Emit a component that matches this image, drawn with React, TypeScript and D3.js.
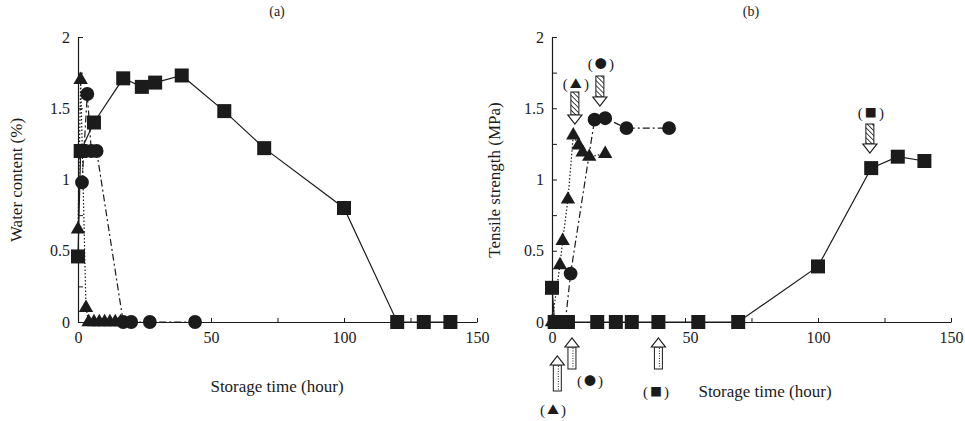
import React, { useEffect, useRef } from 'react';
import * as d3 from 'd3';

// storage time (hour) and values
const waterSquareTime = [0, 1, 6, 17, 24, 29, 39, 55, 70, 100, 120, 130, 140];
const waterSquare = [0.46, 1.2, 1.4, 1.71, 1.65, 1.68, 1.73, 1.48, 1.22, 0.8, 0, 0, 0];
const waterTriTime = [0, 1, 3, 4, 6, 8, 10, 12, 14, 16];
const waterTri = [0.65, 1.7, 0.1, 0, 0, 0, 0, 0, 0, 0];
const waterCircTime = [1.5, 3.5, 5, 7, 17, 20, 27, 44];
const waterCirc = [0.98, 1.6, 1.2, 1.2, 0, 0, 0, 0];

const tensSquareTime = [0, 1, 3, 6, 17, 24, 30, 40, 55, 70, 100, 120, 130, 140];
const tensSquare = [0.24, 0, 0, 0, 0, 0, 0, 0, 0, 0, 0.39, 1.08, 1.16, 1.13];
const tensTriTime = [0, 3, 4, 6, 8, 10, 11.5, 14, 20];
const tensTri = [0, 0.4, 0.57, 0.86, 1.31, 1.24, 1.19, 1.16, 1.18];
const tensCircTime = [5, 7, 16, 20, 28, 44];
const tensCirc = [0, 0.34, 1.42, 1.43, 1.36, 1.36];

const xTicks = [0, 25, 50, 75, 100, 125, 150];
const yTicks = [0, 0.25, 0.5, 0.75, 1, 1.25, 1.5, 1.75, 2];

// annotation arrows in panel (b)
const downArrowTime = [8.6, 18, 119.5];
const downArrowGlyph = ['▲', '●', '■'];
const upArrowTime = [2, 7.5, 40];
const upArrowGlyph = ['▲', '●', '■'];

const FONT = '"Liberation Serif", "Times New Roman", serif';
const CJK = '"Noto Sans CJK JP", "DejaVu Sans", sans-serif';
const INK = '#1b1b1b';

function zip(t: number[], v: number[]) {
  return t.map((d, i) => ({ t: d, v: v[i] }));
}

function markLabel(g: any, x: number, y: number, glyph: string) {
  const txt = g.append('text')
    .attr('x', x).attr('y', y)
    .attr('text-anchor', 'middle')
    .attr('font-family', FONT).attr('font-size', 15).attr('fill', INK);
  txt.append('tspan').text('(');
  txt.append('tspan').attr('dx', 2).attr('font-family', CJK).attr('font-size', 12).text(glyph);
  txt.append('tspan').attr('dx', 2).text(')');
}

function drawPanel(g: any, opt: any) {
  const x = d3.scaleLinear().domain([0, 150]).range([opt.left, opt.left + 399]);
  const y = d3.scaleLinear().domain([0, 2]).range([322, 37]);

  const xAxis = d3.axisBottom(x)
    .tickValues(xTicks)
    .tickSizeInner(-4)
    .tickSizeOuter(0)
    .tickPadding(10)
    .tickFormat((d: any) => (d % 50 === 0 ? String(d) : ''));
  const ax = g.append('g').attr('transform', 'translate(0,322)').call(xAxis);
  const yAxis = d3.axisLeft(y)
    .tickValues(yTicks)
    .tickSizeInner(-5)
    .tickSizeOuter(0)
    .tickPadding(8)
    .tickFormat((d: any) => (Math.round(d * 2) === d * 2 ? String(d) : ''));
  const ay = g.append('g').attr('transform', `translate(${opt.left},0)`).call(yAxis);

  [ax, ay].forEach((a) => {
    a.selectAll('path').attr('stroke', INK).attr('stroke-width', 1.2);
    a.selectAll('line').attr('stroke', INK);
    a.selectAll('text').attr('font-family', FONT).attr('font-size', 16).attr('fill', INK);
  });
  if (opt.shift50) {
    ax.selectAll('text').filter((d: any) => d === 50).attr('dx', 5);
  }

  const line = d3.line<any>().x((d) => x(d.t)).y((d) => y(d.v));

  const series = [
    { data: zip(opt.circT, opt.circV), dash: '7,3,2,3', shape: 'circle' },
    { data: zip(opt.triT, opt.triV), dash: '1.5,2', shape: 'triangle' },
    { data: zip(opt.sqT, opt.sqV), dash: null, shape: 'square' },
  ];

  series.forEach((s) => {
    g.append('path')
      .datum(s.data)
      .attr('d', line)
      .attr('fill', 'none')
      .attr('stroke', INK)
      .attr('stroke-width', 1.2)
      .attr('stroke-dasharray', s.dash);
  });

  const sym = {
    circle: d3.symbol().type(d3.symbolCircle).size(150),
    triangle: d3.symbol().type(d3.symbolTriangle).size(90),
    square: d3.symbol().type(d3.symbolSquare).size(196),
  } as any;

  series.forEach((s) => {
    g.append('g')
      .selectAll('path')
      .data(s.data)
      .join('path')
      .attr('d', sym[s.shape]())
      .attr('transform', (d: any) => `translate(${x(d.t)},${y(d.v)})`)
      .attr('fill', INK);
  });

  // x axis title
  g.append('text')
    .attr('x', opt.xTitleX)
    .attr('y', opt.xTitleY)
    .attr('text-anchor', 'middle')
    .attr('font-family', FONT)
    .attr('font-size', 17)
    .attr('fill', INK)
    .text('Storage time (hour)');

  // y axis title
  g.append('text')
    .attr('transform', `translate(${opt.yTitleX},180) rotate(-90)`)
    .attr('text-anchor', 'middle')
    .attr('font-family', FONT)
    .attr('font-size', 17)
    .attr('fill', INK)
    .text(opt.yTitle);

  // panel caption
  g.append('text')
    .attr('x', opt.left + 199)
    .attr('y', 16)
    .attr('text-anchor', 'middle')
    .attr('font-family', FONT)
    .attr('font-size', 14)
    .attr('fill', INK)
    .text(opt.caption);

  return { x, y };
}

export default function App() {
  const ref = useRef<SVGSVGElement>(null);

  useEffect(() => {
    const svg = d3.select(ref.current);
    svg.selectAll('*').remove();

    const defs = svg.append('defs');
    const pat = defs.append('pattern')
      .attr('id', 'hatch')
      .attr('width', 3.5)
      .attr('height', 3.5)
      .attr('patternUnits', 'userSpaceOnUse')
      .attr('patternTransform', 'rotate(-45)');
    pat.append('rect').attr('width', 3.5).attr('height', 3.5).attr('fill', '#fff');
    pat.append('line').attr('x1', 0).attr('y1', 0).attr('x2', 0).attr('y2', 3.5)
      .attr('stroke', INK).attr('stroke-width', 1.6);

    const g = svg.append('g');

    drawPanel(g, {
      left: 78, sqT: waterSquareTime, sqV: waterSquare, triT: waterTriTime, triV: waterTri,
      circT: waterCircTime, circV: waterCirc, xTitleX: 277, xTitleY: 392, yTitleX: 22,
      yTitle: 'Water content (%)', caption: '(a)', shift50: false,
    });

    const b = drawPanel(g, {
      left: 552, sqT: tensSquareTime, sqV: tensSquare, triT: tensTriTime, triV: tensTri,
      circT: tensCircTime, circV: tensCirc, xTitleX: 765, xTitleY: 397, yTitleX: 500,
      yTitle: 'Tensile strength (MPa)', caption: '(b)', shift50: true,
    });

    // hatched down arrows with labels
    const downTip = [124, 106, 153];
    const downTop = [92, 76, 124];
    const downLab = [89, 69, 118];
    downArrowTime.forEach((t, i) => {
      const cx = b.x(t);
      const headY = downTip[i] - 9;
      g.append('rect')
        .attr('x', cx - 4).attr('y', downTop[i])
        .attr('width', 8).attr('height', headY - downTop[i])
        .attr('fill', 'url(#hatch)').attr('stroke', INK).attr('stroke-width', 1);
      g.append('path')
        .attr('d', `M${cx - 7},${headY}L${cx + 7},${headY}L${cx},${downTip[i]}Z`)
        .attr('fill', '#fff').attr('stroke', INK).attr('stroke-width', 1.2);
      markLabel(g, cx + 1, downLab[i], downArrowGlyph[i]);
    });

    // dotted up arrows below the axis
    const upTop = [356, 338, 338];
    const upBottom = [391, 369, 369];
    const labX = [553, 590, 656];
    const labY = [415, 386, 397];
    upArrowTime.forEach((t, i) => {
      const cx = b.x(t);
      const baseY = upTop[i] + 9;
      g.append('rect')
        .attr('x', cx - 4).attr('y', baseY)
        .attr('width', 8).attr('height', upBottom[i] - baseY)
        .attr('fill', '#fff').attr('stroke', INK).attr('stroke-width', 1);
      g.append('line')
        .attr('x1', cx + 1).attr('x2', cx + 1)
        .attr('y1', baseY + 1).attr('y2', upBottom[i] - 1)
        .attr('stroke', INK).attr('stroke-width', 1).attr('stroke-dasharray', '1,1.5');
      g.append('path')
        .attr('d', `M${cx - 7},${baseY}L${cx + 7},${baseY}L${cx},${upTop[i]}Z`)
        .attr('fill', '#fff').attr('stroke', INK).attr('stroke-width', 1.2);
      markLabel(g, labX[i], labY[i], upArrowGlyph[i]);
    });
  }, []);

  return (
    <div style={{ position: 'absolute', left: 0, top: 0, width: 965, height: 421, background: '#fff' }}>
      <svg ref={ref} width={965} height={421} style={{ display: 'block' }} />
    </div>
  );
}
